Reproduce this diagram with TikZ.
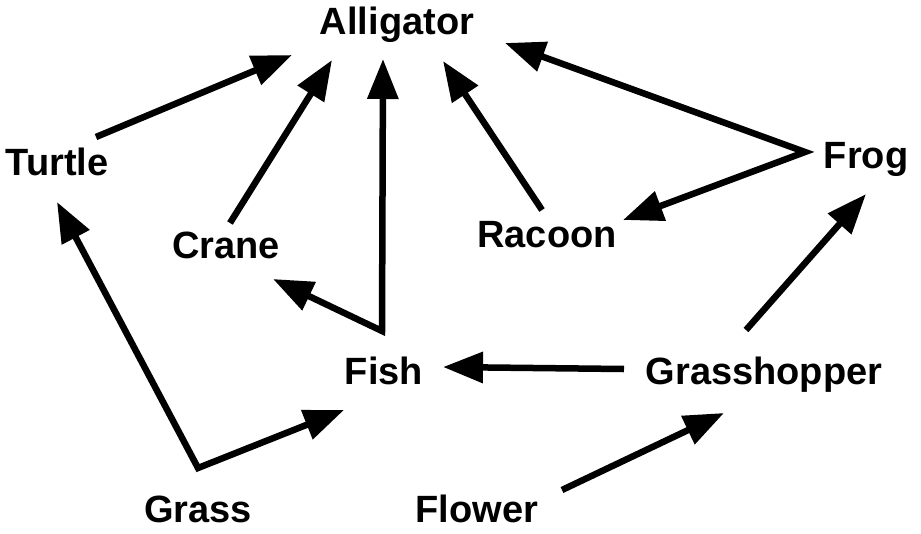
\documentclass[tikz,border=0pt]{standalone}
\usepackage{fontspec}
\setmainfont{Liberation Sans}
\usetikzlibrary{arrows.meta}
\tikzset{
  lbl/.style={anchor=base, inner sep=0pt, font=\bfseries\fontsize{38}{44}\selectfont},
  conn/.style={line width=6.5pt, line join=miter, -{Triangle[length=40pt,width=30pt]}},
  conn2/.style={line width=6.5pt, line join=miter, {Triangle[length=40pt,width=30pt]}-{Triangle[length=40pt,width=30pt]}}
}
\begin{document}
\begin{tikzpicture}[x=1pt,y=-1pt]
\useasboundingbox (0,0) rectangle (921,533);
% labels
\node[lbl] (alligator) at (397,34) {Alligator};
\node[lbl] (turtle) at (57,175) {Turtle};
\node[lbl] (crane) at (226,258) {Crane};
\node[lbl] (racoon) at (547,247) {Racoon};
\node[lbl] (frog) at (866,168) {Frog};
\node[lbl] (fish) at (384,384) {Fish};
\node[lbl] (grasshopper) at (764,384) {Grasshopper};
\node[lbl] (grass) at (198,522) {Grass};
\node[lbl] (flower) at (477,522) {Flower};
% connector end points
\coordinate (turtleOut) at (96,137);
\coordinate (alligatorFromTurtle) at (292,55);
\coordinate (craneOut) at (230,223);
\coordinate (alligatorFromCrane) at (332,60);
\coordinate (fishOut) at (382,331);
\coordinate (alligatorFromFish) at (383,59);
\coordinate (craneIn) at (273,279);
\coordinate (racoonOut) at (542,210);
\coordinate (alligatorFromRacoon) at (443,61);
\coordinate (frogOut) at (805,152);
\coordinate (alligatorFromFrog) at (505,43);
\coordinate (racoonIn) at (623,220);
\coordinate (grasshopperOutW) at (624,369);
\coordinate (fishInE) at (443,367);
\coordinate (grasshopperOutN) at (746,330);
\coordinate (frogIn) at (866,194);
\coordinate (grassOut) at (198,468);
\coordinate (turtleIn) at (57,202);
\coordinate (fishInSW) at (344,410);
\coordinate (flowerOut) at (562,490);
\coordinate (grasshopperIn) at (724,413);
% connectors
\draw[conn] (turtleOut) -- (alligatorFromTurtle);
\draw[conn] (craneOut) -- (alligatorFromCrane);
\draw[conn2] (craneIn) -- (fishOut) -- (alligatorFromFish);
\draw[conn] (racoonOut) -- (alligatorFromRacoon);
\draw[conn2] (alligatorFromFrog) -- (frogOut) -- (racoonIn);
\draw[conn] (grasshopperOutW) -- (fishInE);
\draw[conn] (grasshopperOutN) -- (frogIn);
\draw[conn2] (turtleIn) -- (grassOut) -- (fishInSW);
\draw[conn] (flowerOut) -- (grasshopperIn);
\end{tikzpicture}
\end{document}
